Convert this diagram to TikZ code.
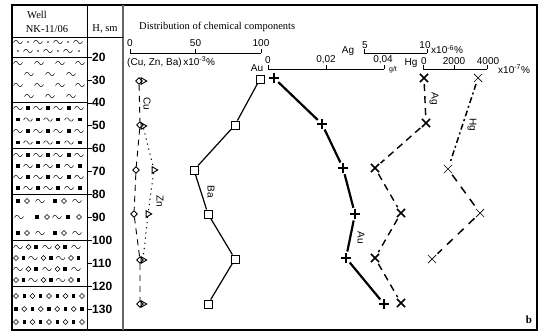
\documentclass[tikz,border=0pt]{standalone}
\usepackage{fontspec}
\setmainfont{Liberation Serif}
\setsansfont{Liberation Sans}
\usetikzlibrary{shapes.geometric,shapes.misc}

% lithology symbols
\tikzset{
  lwave/.pic={\draw[line width=0.5] (-4.5,0.6) .. controls (-3,-2.4) and (-1.5,-2.4) .. (0,0) .. controls (1.5,2.4) and (3,2.4) .. (4.5,-0.6);},
  lsq/.pic={\fill (-1.7,-1.7) rectangle (1.7,1.7);},
  ldia/.pic={\draw[line width=0.5] (-2.6,0) -- (0,-2.6) -- (2.6,0) -- (0,2.6) -- cycle;},
  ldot/.pic={\fill (0,0) circle (0.8);},
}
\newcommand\litrow[5]{%
  \def\tmpw{#2}\ifx\tmpw\empty\else\foreach \xx in {#2} {\pic at (\xx,#1) {lwave};}\fi
  \def\tmps{#3}\ifx\tmps\empty\else\foreach \xx in {#3} {\pic at (\xx,#1) {lsq};}\fi
  \def\tmpd{#4}\ifx\tmpd\empty\else\foreach \xx in {#4} {\pic at (\xx,#1) {ldia};}\fi
  \def\tmpp{#5}\ifx\tmpp\empty\else\foreach \xx in {#5} {\pic at (\xx,#1) {ldot};}\fi
}

\begin{document}
\begin{tikzpicture}[x=1pt, y=-1pt,
    hdr/.style={font=\rmfamily\fontsize{10.5}{12}\selectfont, inner sep=0},
    axl/.style={font=\sffamily\fontsize{10}{12}\selectfont, inner sep=0},
    dep/.style={font=\sffamily\bfseries\fontsize{12}{14}\selectfont, anchor=west, inner sep=0},
    elab/.style={font=\sffamily\fontsize{10}{12}\selectfont, rotate=-90, inner sep=0},
    basq/.style={draw, rectangle, minimum size=8, inner sep=0, line width=0.9},
    aupl/.style={draw, cross out, rotate=45, minimum size=6.5, inner sep=0, line width=1.2},
    agx/.style={draw, cross out, minimum size=6.5, inner sep=0, line width=1.7},
    hgx/.style={draw, cross out, minimum size=7.5, inner sep=0, line width=0.7},
    cudia/.style={draw, diamond, minimum size=7, inner sep=0, line width=0.9},
    zntri/.style={draw, regular polygon, regular polygon sides=3, shape border rotate=-90, minimum size=7.5, inner sep=0, line width=0.9},
    bal/.style={line width=1.2},
    aul/.style={line width=2.2, shorten <=2, shorten >=2},
    agl/.style={line width=1.4, dash pattern=on 7 off 5, shorten <=2, shorten >=2},
    hgl/.style={line width=1.5, dash pattern=on 6 off 3 on 2 off 3, shorten <=2, shorten >=2},
    hgd/.style={line width=1.5, dash pattern=on 8 off 7, shorten <=2, shorten >=2},
    cul/.style={line width=0.9, dash pattern=on 6 off 5},
    znl/.style={line width=1, dash pattern=on 1.2 off 4}]
  \useasboundingbox (0,0) rectangle (541,334);

  %%%%% FRAME %%%%%
  \draw[line width=1.6] (12,5) rectangle (537,330);
  \draw (87,5) -- (87,330);
  \draw[black!60, line width=1.2] (123,5) -- (123,330);
  \draw (12,37) -- (123,37);

  \node[hdr] (well) at (37,15) {Well};
  \node[hdr] (nk) at (47,29) {NK-11/06};
  \node[hdr] (hsm) at (105,29) {H, sm};
  \node[hdr, anchor=west] (dist) at (139,27) {Distribution of chemical components};

  %%%%% LITHOLOGY %%%%%
  \foreach \d in {20,40,...,120} {
    \draw[line width=0.6] (12,{57+(\d-20)*2.29}) -- (87,{57+(\d-20)*2.29});
  }

  \litrow{42}{18,38,58,78}{}{}{28,48,68}
  \litrow{51}{28,48,68}{}{}{18,38,58,79}

  \litrow{63}{18,39,60,80}{}{}{}
  \litrow{74}{29,50,71}{}{}{}
  \litrow{85}{18,39,60,80}{}{}{}
  \litrow{96}{29,50,71}{}{}{}

  \foreach \yy in {108,131,155,177} {\litrow{\yy}{18,38,58,79}{28,48,69}{}{}}
  \foreach \yy in {119.5,142.5,166,188} {\litrow{\yy}{28,48,69}{18,38,58,80}{}{}}

  \litrow{201}{40,77}{18,55}{27,64}{}
  \litrow{217}{19,57}{37,68}{47,79}{}
  \litrow{233}{40,77}{18,55}{27,64}{}

  \foreach \yy in {247,269} {\litrow{\yy}{18,47,76}{36,65}{28.5,57.5}{}}
  \foreach \yy in {258,280} {\litrow{\yy}{33,60.5}{23.5,51,78.5}{16,43.5,71}{}}

  \foreach \yy in {296,322} {\litrow{\yy}{}{24.25,40.75,57.25,73.75}{16,32.5,49,65.5,82}{}}
  \litrow{309}{}{16,32.5,49,65.5,82}{24.25,40.75,57.25,73.75}{}

  %%%%% DEPTH SCALE %%%%%
  \foreach \d in {20,30,...,130} {
    \draw (87,{57+(\d-20)*2.29}) -- ++(5,0);
    \node[dep] (h\d) at (92,{57+(\d-20)*2.29}) {\d};
  }

  %%%%% AXES %%%%%
  \draw (130,53) -- (261,53);
  \foreach \x in {130,195.5,261} {\draw (\x,53) -- (\x,49);}
  \node[axl] (t0) at (130,43) {0};
  \node[axl] (t50) at (195.5,43) {50};
  \node[axl] (t100) at (261,43) {100};
  \node[axl, anchor=west] (cuznba) at (127,62) {(Cu, Zn, Ba)\,x10\textsuperscript{-3}\%};

  \draw (268,69) -- (384,69);
  \foreach \x in {268,326,384} {\draw (\x,69) -- (\x,65);}
  \node[axl] (au) at (257,68) {Au};
  \node[axl] (au0) at (268,60) {0};
  \node[axl] (au2) at (326,60) {0,02};
  \node[axl] (au4) at (383,60) {0,04};
  \node[axl, font=\sffamily\fontsize{7}{8}\selectfont] (gt) at (393,70) {g/t};

  \draw (364,53) -- (427,53);
  \foreach \x in {364,427} {\draw (\x,53) -- (\x,49);}
  \node[axl] (ag) at (348,51) {Ag};
  \node[axl] (ag5) at (365,45) {5};
  \node[axl] (ag10) at (425,45) {10};
  \node[axl, anchor=west] (agu) at (431,49.5) {x10\textsuperscript{-6}\%};

  \draw (423,69) -- (487,69);
  \foreach \x in {423,454,487} {\draw (\x,69) -- (\x,65);}
  \node[axl] (hg) at (411,63) {Hg};
  \node[axl] (hg0) at (424,61) {0};
  \node[axl] (hg2) at (454,61) {2000};
  \node[axl] (hg4) at (488,61) {4000};
  \node[axl, anchor=west] (hgu) at (498,69) {x10\textsuperscript{-7}\%};

  %%%%% CURVES %%%%%
  \node[cudia] (cu1) at (139,81) {};
  \node[cudia] (cu2) at (140,125) {};
  \node[cudia] (cu3) at (136,170) {};
  \node[cudia] (cu4) at (134,214) {};
  \node[cudia] (cu5) at (140,260) {};
  \node[cudia] (cu6) at (140,304) {};
  \draw[cul] (cu1) -- (cu2) -- (cu3) -- (cu4) -- (cu5) -- (cu6);

  \node[zntri] (zn1) at (143,81) {};
  \node[zntri] (zn2) at (143,126) {};
  \node[zntri] (zn3) at (154,170) {};
  \node[zntri] (zn4) at (148,214) {};
  \node[zntri] (zn5) at (143,260) {};
  \node[zntri] (zn6) at (143,304) {};
  \draw[znl] (zn2) -- (zn3) -- (zn4) -- (zn5);

  \node[basq] (ba1) at (260,79) {};
  \node[basq] (ba2) at (235,125) {};
  \node[basq] (ba3) at (194,170) {};
  \node[basq] (ba4) at (208,214) {};
  \node[basq] (ba5) at (235,259) {};
  \node[basq] (ba6) at (208,304) {};
  \draw[bal] (ba1) -- (ba2) -- (ba3) -- (ba4) -- (ba5) -- (ba6);

  \node[aupl] (au1) at (274,78) {};
  \node[aupl] (au2) at (322,124) {};
  \node[aupl] (au3) at (343,168) {};
  \node[aupl] (au4) at (355,214) {};
  \node[aupl] (au5) at (346,258) {};
  \node[aupl] (au6) at (384,304) {};
  \draw[aul] (au1) -- (au2);
  \draw[aul] (au2) -- (au3);
  \draw[aul] (au3) -- (au4);
  \draw[aul] (au4) -- (au5);
  \draw[aul] (au5) -- (au6);

  \node[agx] (ag1) at (424,78) {};
  \node[agx] (ag2) at (426,123) {};
  \node[agx] (ag3) at (375,168) {};
  \node[agx] (ag4) at (401,213) {};
  \node[agx] (ag5) at (375,258) {};
  \node[agx] (ag6) at (401,303) {};
  \draw[agl] (ag1) -- (ag2);
  \draw[agl] (ag2) -- (ag3);
  \draw[agl] (ag3) -- (ag4);
  \draw[agl] (ag4) -- (ag5);
  \draw[agl] (ag5) -- (ag6);

  \node[hgx] (hg1) at (478,78) {};
  \node[hgx] (hg2) at (448,169) {};
  \node[hgx] (hg3) at (480,213) {};
  \node[hgx] (hg4) at (432,259) {};
  \draw[hgl] (hg1) -- (hg2);
  \draw[hgd] (hg2) -- (hg3);
  \draw[hgd] (hg3) -- (hg4);

  \node[elab] (culab) at (147,104) {Cu};
  \node[elab] (znlab) at (160,201) {Zn};
  \node[elab] (balab) at (211,192) {Ba};
  \node[elab] (aulab) at (361,238) {Au};
  \node[elab] (aglab) at (434,99) {Ag};
  \node[elab] (hglab) at (472,125) {Hg};

  \node[font=\rmfamily\bfseries\fontsize{11}{12}\selectfont, inner sep=0] (pan) at (529,320) {b};
\end{tikzpicture}
\end{document}
